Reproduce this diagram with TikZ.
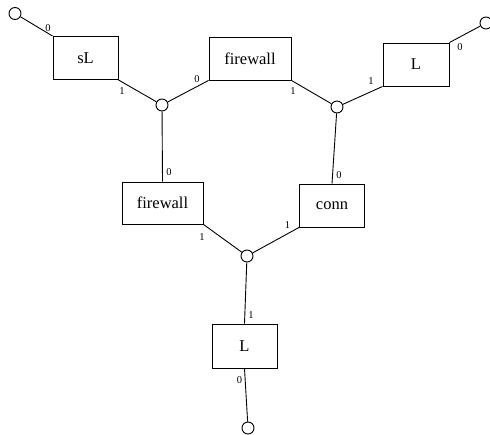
\documentclass[tikz,border=0pt]{standalone}
\usepackage{fontspec}
\setmainfont{Liberation Serif}
\tikzset{
  box/.style={draw, rectangle, minimum height=43pt, inner sep=0pt, font=\fontsize{16.5}{19}\selectfont},
  junc/.style={draw, circle, minimum size=12pt, inner sep=0pt, fill=white},
  port/.style={inner sep=0pt, font=\fontsize{10.5}{12}\selectfont}
}
\begin{document}
\begin{tikzpicture}[x=1pt,y=-1pt,line width=0.9pt]
	\useasboundingbox (0,0) rectangle (490,435);
	% boxes
	\node[box,minimum width=65pt] (sL) at (85.5,58) {sL};
	\node[box,minimum width=82pt] (fwA) at (250,58.5) {firewall};
	\node[box,minimum width=66pt] (Ltop) at (416,64.5) {L};
	\node[box,minimum width=81pt,minimum height=42pt] (fwB) at (162.5,203) {firewall};
	\node[box,minimum width=65pt] (conn) at (332,205.5) {conn};
	\node[box,minimum width=65pt,minimum height=44pt] (Lbot) at (244.5,346) {L};
	% junctions and loose ends
	\node[junc] (jA) at (162,105) {};
	\node[junc] (jB) at (337,107) {};
	\node[junc] (jC) at (247,256) {};
	\node[junc] (eA) at (15,13.5) {};
	\node[junc] (eB) at (486,23) {};
	\node[junc] (eC) at (248,428) {};
	% connectors
	\draw (eA) -- (sL.north west);
	\draw (sL.south east) -- (jA);
	\draw (fwA.south west) -- (jA);
	\draw (fwA.south east) -- (jB);
	\draw (Ltop.south west) -- (jB);
	\draw (Ltop.north east) -- (eB);
	\draw (jA) -- (fwB.north);
	\draw (jB) -- (conn.north);
	\draw (fwB.south east) -- (jC);
	\draw (conn.south west) -- (jC);
	\draw (jC) -- (Lbot.north);
	\draw (Lbot.south) -- (eC);
	% port numbers
	\node[port] (pA0) at (48,28) {0};
	\node[port] (pA1) at (122,91.5) {1};
	\node[port] (pB0) at (197,79) {0};
	\node[port] (pB1) at (293,91.5) {1};
	\node[port] (pC1) at (371,81) {1};
	\node[port] (pC0) at (460,47) {0};
	\node[port] (pD0) at (169,172.5) {0};
	\node[port] (pE0) at (339,175) {0};
	\node[port] (pD1) at (202,237) {1};
	\node[port] (pE1) at (287.5,225.5) {1};
	\node[port] (pF1) at (251,315) {1};
	\node[port] (pF0) at (239.5,380) {0};
\end{tikzpicture}
\end{document}
